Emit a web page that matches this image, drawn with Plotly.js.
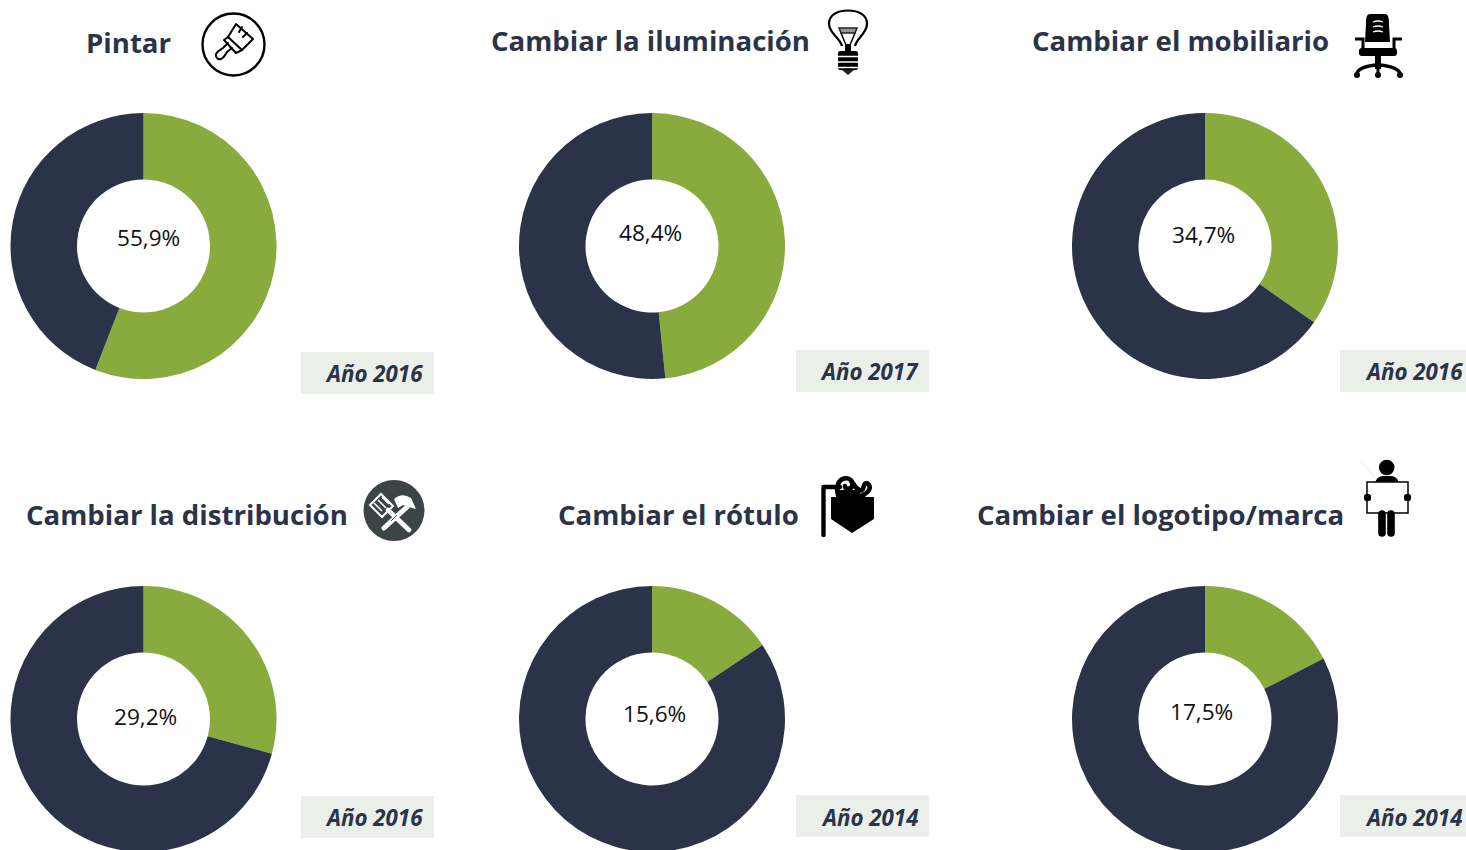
<!DOCTYPE html>
<html><head><meta charset="utf-8">
<script src="https://cdn.plot.ly/plotly-3.0.1.min.js"></script>
<style>html,body{margin:0;padding:0;background:#fff;overflow:hidden;width:1466px;height:850px}#c{width:1466px;height:860px}</style>
</head><body><div id="c"></div>
<script>
const titles = ["Pintar","Cambiar la iluminación","Cambiar el mobiliario","Cambiar la distribución","Cambiar el rótulo","Cambiar el logotipo/marca"];
const shares = [55.9,48.4,34.7,29.2,15.6,17.5];
const years = ["Año 2016","Año 2017","Año 2016","Año 2016","Año 2014","Año 2014"];
const segmentNames = ["Sí","No"];
const sliceColors = ["#89AB3D","#2B3348"];

const W=1466,H=860,R=133;
const centers=[[143.5,246],[652,246],[1205,246],[143.5,719],[652,719],[1205,719]];
const valuePos=[[148.5,237.5],[650.5,232.5],[1203.5,234.5],[145.5,716.5],[654.5,713.5],[1201.5,711.5]];
const titlePos=[[128.5,42],[650,40],[1180.5,40],[186.5,514],[678,514],[1160,514]];
const yearBox=[[301,352,434,394],[796,350,929,392],[1340,350,1467,392],[301,796,434,838],[796,795,929,837],[1340,795,1467,837]];
const yearPos=[[374.5,373],[870,371],[1414,371],[374.5,817],[870,817],[1414,817]];
const px=x=>x/W, py=y=>1-y/H;

const svg=(w,h,body)=>"data:image/svg+xml;charset=utf-8,"+encodeURIComponent(`<svg xmlns="http://www.w3.org/2000/svg" width="${w*3}" height="${h*3}" viewBox="0 0 ${w} ${h}">${body}</svg>`);
const icons=[
 {x:190,y:0,w:90,h:90,b:`<circle cx="43.5" cy="44.5" r="31" fill="none" stroke="#000" stroke-width="2.4"/>
  <g fill="none" stroke="#000" stroke-width="2" stroke-linejoin="round" stroke-linecap="round">
  <path d="M46 24L63 39L52 50L38 37Z"/><path d="M38 37L34 40L46 53L52 50"/><path d="M52 27L49 32M57 33L53 37"/>
  <path d="M38 43L33 48C30 50 27 51 26 54C25 57 28 60 31 59C34 58 35 55 37 52L42 48"/></g>`},
 {x:810,y:0,w:80,h:90,b:`<path d="M32 46C30 38 19 33 19 24C19 15 27 10.5 38 10.5C49 10.5 57 15 57 24C57 33 47 38 45 46" fill="none" stroke="#000" stroke-width="2.2"/>
  <path d="M29 28H47L45 33H31Z" fill="#999" stroke="#222" stroke-width="1.5"/>
  <path d="M31 33L36 45M45 33L40 45" stroke="#000" stroke-width="1.5"/>
  <rect x="35" y="44" width="6" height="8" fill="#000"/>
  <rect x="28" y="51" width="20" height="19" rx="2" fill="#000"/>
  <path d="M26 56.5H50M26 62H50M26 67.5H50" stroke="#fff" stroke-width="1.5"/>
  <path d="M32 70H44L38 75Z" fill="#222"/>`},
 {x:1340,y:0,w:80,h:90,b:`<path d="M30 14H45C48 14 49 17 49 24L50 42H25L26 24C26 17 27 14 30 14Z" fill="#000"/>
  <path d="M33 22Q38 20 43 22M33 27Q38 25 43 27M33 32Q38 30 43 32" stroke="#fff" stroke-width="1.3" fill="none"/>
  <path d="M15 39H23V50H55" fill="none" stroke="#000" stroke-width="3"/><path d="M62 39H54V50H30" fill="none" stroke="#000" stroke-width="3"/>
  <rect x="19" y="48" width="38" height="8" rx="3" fill="#000"/><rect x="35" y="55" width="6" height="14" fill="#000"/>
  <path d="M17 73Q20 66 38 65Q56 66 60 73" fill="none" stroke="#000" stroke-width="3.4"/>
  <path d="M38 65V74" stroke="#000" stroke-width="3"/>
  <circle cx="17" cy="75" r="3" fill="#000"/><circle cx="38" cy="75" r="3" fill="#000"/><circle cx="60" cy="75" r="3" fill="#000"/>`},
 {x:355,y:470,w:80,h:80,b:`<circle cx="39" cy="40.5" r="30.5" fill="#3C4546"/>
  <path d="M15 35L26 24L38 36L27 47Z" fill="none" stroke="#fff" stroke-width="2"/><path d="M19 33L27 41M23 30L31 38M27 27L34 34" stroke="#fff" stroke-width="1.7"/>
  <path d="M29 58L52 37" stroke="#fff" stroke-width="5" stroke-linecap="round"/>
  <path d="M39 29Q47 22 56 28L61 39L54 37L48 35L43 38Z" fill="#fff"/>
  <path d="M33 40L54 60" stroke="#fff" stroke-width="4.6" stroke-linecap="round"/>
  <path d="M36 51L42 45" stroke="#3C4546" stroke-width="1"/>`},
 {x:810,y:465,w:80,h:80,b:`<path d="M13.5 70V22H30" fill="none" stroke="#000" stroke-width="4.4" stroke-linecap="round" stroke-linejoin="round"/>
  <path d="M21 32H64V54L42 68L21 54Z" fill="#000"/>
  <path d="M28 30C26 22 28 15 34 13.5C40 12 44 17 42 21.5C40 25 35 24 35 21M41 16C45 20 47 27 52 25C54.5 23 53 20 55 18.5C58 17 61 21 59 25C57 28 54 31 48 31" fill="none" stroke="#000" stroke-width="4.6" stroke-linecap="round"/>
  <rect x="26" y="25" width="24" height="8" fill="#000"/>`},
 {x:1350,y:455,w:70,h:90,b:`<path d="M10 6L53 52" stroke="#eee" stroke-width="1"/>
  <circle cx="36.7" cy="12.5" r="7.8" fill="#000"/>
  <path d="M25 28Q27 21 33 21H41Q47 21 49 28Z" fill="#000"/>
  <rect x="17" y="27" width="41" height="31" fill="#fff" stroke="#111" stroke-width="1.6"/>
  <rect x="14" y="39" width="7" height="7" rx="2.5" fill="#000"/><rect x="54" y="39" width="7" height="7" rx="2.5" fill="#000"/>
  <path d="M32 59V78M41 59V78" stroke="#000" stroke-width="7.6" stroke-linecap="round"/>`}
];

const data=shares.map((v,i)=>({
  type:"pie",values:[v,100-v],labels:segmentNames,sort:false,direction:"clockwise",rotation:0,hole:0.5,
  marker:{colors:sliceColors,line:{width:0}},textinfo:"none",hoverinfo:"label+percent",showlegend:false,
  domain:{x:[px(centers[i][0]-R),px(centers[i][0]+R)],y:[py(centers[i][1]+R),py(centers[i][1]-R)]}
}));
const ann=[];
const anchor={xref:"paper",yref:"paper",xanchor:"center",yanchor:"middle",showarrow:false};
shares.forEach((v,i)=>{
  ann.push({...anchor,x:px(valuePos[i][0]),y:py(valuePos[i][1]),text:v.toFixed(1).replace(".",",")+"%",
    font:{family:"Open Sans",size:22.6,color:"#111"}});
  ann.push({...anchor,x:px(titlePos[i][0]),y:py(titlePos[i][1]),text:titles[i],
    font:{family:"Open Sans",size:27.6,weight:700,color:"#2B3348"}});
  ann.push({...anchor,x:px(yearPos[i][0]),y:py(yearPos[i][1]),text:years[i],
    font:{family:"Open Sans",size:22.3,weight:700,style:"italic",color:"#2B3348"}});
});
const shapes=yearBox.map(b=>({type:"rect",xref:"paper",yref:"paper",layer:"below",x0:px(b[0]),x1:px(b[2]),y0:py(b[3]),y1:py(b[1]),fillcolor:"#EAEFE9",line:{width:0}}));
const images=icons.map(o=>({source:svg(o.w,o.h,o.b),xref:"paper",yref:"paper",x:px(o.x),y:py(o.y),sizex:o.w/W,sizey:o.h/H,sizing:"stretch",xanchor:"left",yanchor:"top",layer:"above"}));
Plotly.newPlot("c",data,{width:W,height:H,margin:{l:0,r:0,t:0,b:0},paper_bgcolor:"#fff",annotations:ann,shapes,images},{displayModeBar:false,staticPlot:true});
</script></body></html>
